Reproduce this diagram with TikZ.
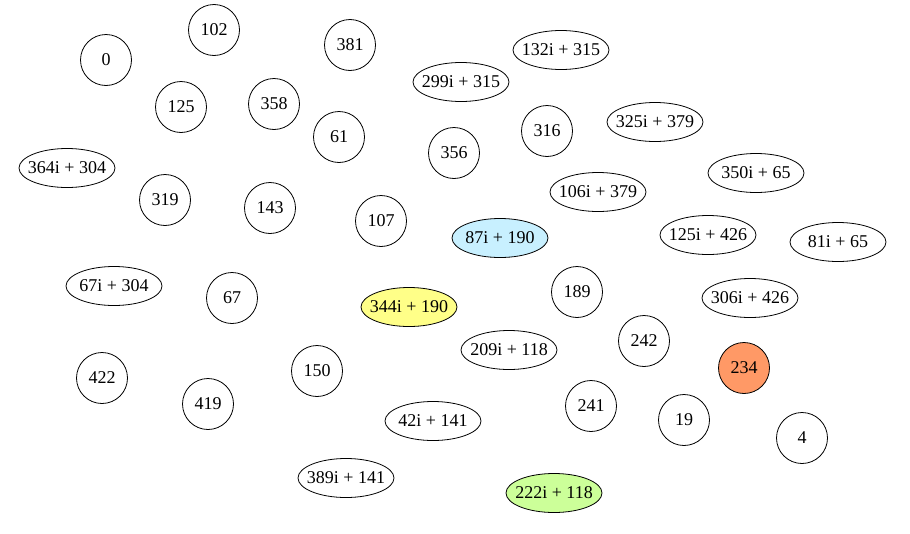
\documentclass[tikz,border=0pt]{standalone}
\usepackage{fontspec}
\setmainfont{Liberation Serif}
\definecolor{bluefill}{HTML}{C8F0FF}
\definecolor{yellowfill}{HTML}{FFFF88}
\definecolor{orangefill}{HTML}{FF9966}
\definecolor{greenfill}{HTML}{CCFF99}
\usetikzlibrary{shapes.geometric}

\begin{document}
\begin{tikzpicture}[x=1pt, y=-1pt, font=\fontsize{18}{20}\selectfont,
    num/.style={draw, circle, line width=0.8pt, inner sep=0pt, minimum size=51pt},
    cplx/.style={draw, ellipse, line width=0.8pt, inner xsep=-6pt, inner ysep=0pt,
                 minimum width=96pt, minimum height=39pt}]
  \useasboundingbox (0,0) rectangle (910,533);

  % plain residues
  \node[num] (n0) at (106,60) {0};
  \node[num] (n102) at (214,30) {102};
  \node[num] (n381) at (350,45) {381};
  \node[num] (n125) at (181,107) {125};
  \node[num] (n358) at (274,104) {358};
  \node[num] (n61) at (339,137) {61};
  \node[num] (n356) at (454,153) {356};
  \node[num] (n316) at (547,131) {316};
  \node[num] (n319) at (165,200) {319};
  \node[num] (n143) at (270,208) {143};
  \node[num] (n107) at (381,221) {107};
  \node[num] (n67) at (232,298) {67};
  \node[num] (n189) at (577,292) {189};
  \node[num] (n242) at (644,341) {242};
  \node[num, fill=orangefill] (n234) at (744,368) {234};
  \node[num] (n422) at (102,378) {422};
  \node[num] (n150) at (317,371) {150};
  \node[num] (n419) at (208,404) {419};
  \node[num] (n241) at (591,406) {241};
  \node[num] (n19) at (684,420) {19};
  \node[num] (n4) at (802,438) {4};

  % complex values
  \node[cplx] (c132) at (561,50) {132i + 315};
  \node[cplx] (c299) at (461,82) {299i + 315};
  \node[cplx] (c325) at (655,122) {325i + 379};
  \node[cplx] (c364) at (67,168) {364i + 304};
  \node[cplx] (c106) at (598,192) {106i + 379};
  \node[cplx] (c350) at (756,173) {350i + 65};
  \node[cplx, fill=bluefill] (c87) at (500,238) {87i + 190};
  \node[cplx] (c125) at (708,235) {125i + 426};
  \node[cplx] (c81) at (838,242) {81i + 65};
  \node[cplx] (c67) at (114,286) {67i + 304};
  \node[cplx, fill=yellowfill] (c344) at (409,307) {344i + 190};
  \node[cplx] (c306) at (750,298) {306i + 426};
  \node[cplx] (c209) at (509,350) {209i + 118};
  \node[cplx] (c42) at (433,421) {42i + 141};
  \node[cplx] (c389) at (346,478) {389i + 141};
  \node[cplx, fill=greenfill] (c222) at (554,493) {222i + 118};
\end{tikzpicture}
\end{document}
